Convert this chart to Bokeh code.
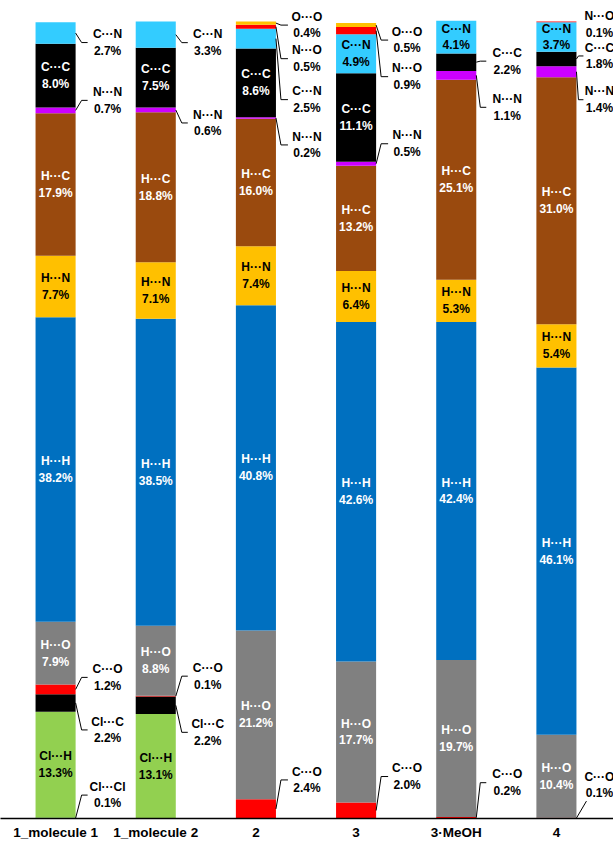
from bokeh.plotting import figure
from bokeh.models import ColumnDataSource, FixedTicker, Range1d
from bokeh.embed import file_html
from bokeh.resources import INLINE
from bokeh.core.properties import value

# ---------------- data ----------------
categories = ["1_molecule 1", "1_molecule 2", "2", "3", "3·MeOH", "4"]
contacts = ["Cl···Cl", "Cl···H", "Cl···C", "C···O", "H···O", "H···H", "H···N",
            "H···C", "N···N", "C···C", "C···N", "N···O", "O···O"]
cl_cl = [0.1, 0.0, 0.0, 0.0, 0.0, 0.0]
cl_h = [13.3, 13.1, 0.0, 0.0, 0.0, 0.0]
cl_c = [2.2, 2.2, 0.0, 0.0, 0.0, 0.0]
c_o = [1.2, 0.1, 2.4, 2.0, 0.2, 0.1]
h_o = [7.9, 8.8, 21.2, 17.7, 19.7, 10.4]
h_h = [38.2, 38.5, 40.8, 42.6, 42.4, 46.1]
h_n = [7.7, 7.1, 7.4, 6.4, 5.3, 5.4]
h_c = [17.9, 18.8, 16.0, 13.2, 25.1, 31.0]
n_n = [0.7, 0.6, 0.2, 0.5, 1.1, 1.4]
c_c = [8.0, 7.5, 8.6, 11.1, 2.2, 1.8]
c_n = [2.7, 3.3, 2.5, 4.9, 4.1, 3.7]
n_o = [0.0, 0.0, 0.5, 0.9, 0.0, 0.1]
o_o = [0.0, 0.0, 0.4, 0.5, 0.0, 0.0]
series = [cl_cl, cl_h, cl_c, c_o, h_o, h_h, h_n, h_c, n_n, c_c, c_n, n_o, o_o]

# ---------------- styles ----------------
fill_colors = ["#00B050", "#92D050", "#000000", "#FF0000", "#808080", "#0070C0",
               "#FFC000", "#9A4A0E", "#CC00FF", "#000000", "#33CCFF", "#FF0000", "#FFC000"]
dark_text = {"H···N", "C···N", "Cl···H"}
INSIDE_MIN = 3.5

# outside label vertical offsets (px, + = down) relative to segment middle
outside_dy = {
    (0, "C···N"): 9.5, (0, "N···N"): -10, (0, "C···O"): -12, (0, "Cl···C"): 27, (0, "Cl···Cl"): -23,
    (1, "C···N"): 8, (1, "N···N"): 13, (1, "C···O"): -20, (1, "Cl···C"): 27,
    (2, "O···O"): 2, (2, "N···O"): 32, (2, "C···N"): 61, (2, "N···N"): 27, (2, "C···O"): -29,
    (3, "O···O"): 15, (3, "N···O"): 46, (3, "N···N"): -20, (3, "C···O"): -34,
    (4, "C···C"): -1, (4, "N···N"): 32, (4, "C···O"): -35,
    (5, "N···O"): 3, (5, "C···C"): -3, (5, "N···N"): 28, (5, "C···O"): -33,
}
# per-bar leader geometry (px from bar edge): diagonal end, horizontal end, text centre
leader_geom = [(6, 12, 32), (6, 12, 32), (5, 12, 31), (5, 12, 31), (4, 10, 31), (2, 7, 23)]
# leaders that are only a diagonal ending below the label: (dx end, dy above label centre)
diag_only = {(5, "C···O"): (10, 16), (5, "N···O"): None}

W, H = 613, 842
AXIS_PX = 24
PX_X0, PX_X1 = 5, 606
PX_TOP = 21
BAR_W = 0.4
unit_x = (PX_X1 - PX_X0) / len(categories)
unit_y = (H - AXIS_PX - PX_TOP) / 100.0

p = figure(width=W, height=H,
           x_range=Range1d(-0.5 - PX_X0 / unit_x, len(categories) - 0.5 + (W - PX_X1) / unit_x),
           y_range=Range1d(0, 100 + PX_TOP / unit_y),
           output_backend="svg", toolbar_location=None, y_axis_location=None,
           min_border_left=0, min_border_right=0, min_border_top=0, min_border_bottom=AXIS_PX)
p.outline_line_color = None
p.xgrid.visible = False
p.ygrid.visible = False
p.background_fill_color = "white"

src = ColumnDataSource(dict(x=list(range(len(categories))),
                            **{c: s for c, s in zip(contacts, series)}))
p.vbar_stack(contacts, x="x", width=BAR_W, fill_color=fill_colors,
             line_color=None, source=src)

# ---------------- labels ----------------
in_x, in_y, in_t, in_c = [], [], [], []
out_x, out_y, out_t = [], [], []
lx, ly = [], []
for i in range(len(categories)):
    cum = 0.0
    edge = i + BAR_W / 2
    d1, d2, dt = leader_geom[i]
    for c, s in zip(contacts, series):
        v = s[i]
        if v <= 0:
            continue
        mid = cum + v / 2
        cum += v
        txt = f"{c}\n{v:.1f}%"
        if v >= INSIDE_MIN:
            in_x.append(i); in_y.append(mid); in_t.append(txt)
            in_c.append("#000000" if c in dark_text else "#FFFFFF")
            continue
        ylab = mid - outside_dy[(i, c)] / unit_y
        out_x.append(edge + dt / unit_x); out_y.append(ylab); out_t.append(txt)
        key = (i, c)
        if key in diag_only:
            g = diag_only[key]
            if g is None:
                continue
            lx.append([edge, edge + g[0] / unit_x])
            ly.append([mid, ylab - g[1] / unit_y])
        else:
            lx.append([edge, edge + d1 / unit_x, edge + d2 / unit_x])
            ly.append([mid, ylab, ylab])

p.multi_line(xs=lx, ys=ly, line_color="black", line_width=1)

font = value("Liberation Sans")
p.text(x=in_x, y=in_y, text=in_t, text_color=in_c, text_align="center",
       text_baseline="middle", text_font=font, text_font_style="bold",
       text_font_size="12px", text_line_height=1.2)
p.text(x=out_x, y=out_y, text=out_t, text_color="black", text_align="center",
       text_baseline="middle", text_font=font, text_font_style="bold",
       text_font_size="12px", text_line_height=1.2)

# ---------------- axis ----------------
ax = p.xaxis[0]
ax.ticker = FixedTicker(ticks=list(range(len(categories))))
ax.major_label_overrides = {i: c for i, c in enumerate(categories)}
ax.major_tick_in = 0
ax.major_tick_out = 0
ax.minor_tick_in = 0
ax.minor_tick_out = 0
ax.axis_line_color = "black"
ax.axis_line_width = 1.5
ax.major_label_standoff = 6
ax.major_label_text_font = "Liberation Sans"
ax.major_label_text_font_style = "bold"
ax.major_label_text_font_size = "13.5px"
ax.major_label_text_color = "black"

open("out.html", "w").write(file_html(p, INLINE))
